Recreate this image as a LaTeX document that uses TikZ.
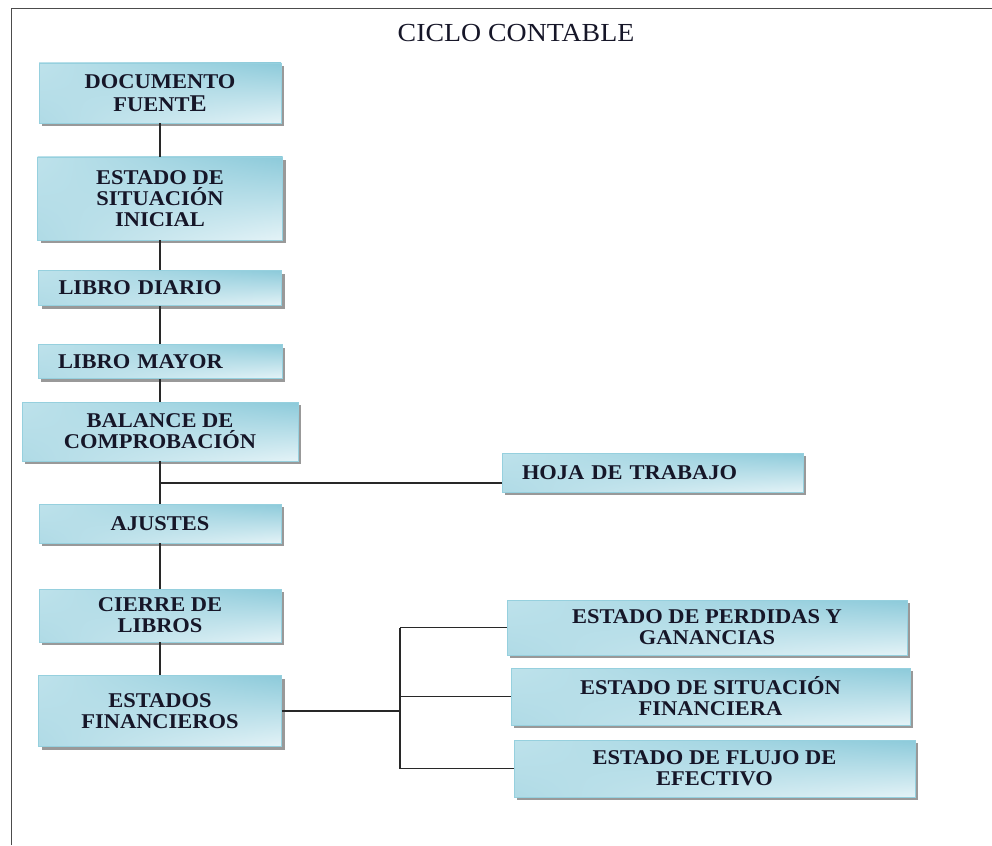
\documentclass[tikz,border=0pt]{standalone}
\usepackage{fontspec}
\setmainfont{Liberation Serif}[FakeStretch=1.07]
\usetikzlibrary{shadows, shadings, positioning, calc}
\definecolor{cLight}{RGB}{228,243,247}
\definecolor{cMid}{RGB}{190,226,235}
\definecolor{cDark}{RGB}{140,202,218}
\definecolor{cEdge}{RGB}{150,208,222}
\definecolor{cTxt}{RGB}{22,22,40}
\definecolor{cLine}{RGB}{40,40,40}
\tikzstyle{Paso}=[rectangle,
		draw=cEdge,
		line width=0.8pt,
		upper left=cMid, upper right=cDark,
		lower left=cDark!60!cLight, lower right=cLight,
		drop shadow={shadow xshift=3pt, shadow yshift=-3pt, fill=black!50, opacity=0.8},
		inner sep=0pt,
		align=center,
		text=cTxt,
		font=\fontsize{21}{21}\selectfont\bfseries]
\tikzstyle{PasoIzq}=[Paso,
		align=left,
		inner xsep=20pt]
\tikzstyle{Linea}=[line width=1.2pt, draw=cLine]

\begin{document}
\begin{tikzpicture}[x=1pt,y=-1pt]
  \useasboundingbox (0,0) rectangle (992,845);
  \draw [line width=1pt, black!70] (11,845) -- (11,9) -- (992,9);

  \node [anchor=base, text=cTxt, font=\fontsize{26}{27}\selectfont] (titulo) at (516,42) {CICLO CONTABLE};

  % main column
  \node [Paso, minimum width=242pt, minimum height=60pt] (doc) at (160,93) {DOCUMENTO\\[2pt]FUENT{\fontsize{24}{21}\selectfont E}};
  \node [Paso, minimum width=245pt, minimum height=83pt] (sit) at (160,198.5) {ESTADO DE\\SITUACIÓN\\INICIAL};
  \node [PasoIzq, text width=203pt, minimum height=35pt] (diario) at (160,288) {LIBRO DIARIO};
  \node [PasoIzq, text width=204pt, minimum height=34pt] (mayor) at (160,361.5) {LIBRO MAYOR};
  \node [Paso, minimum width=276pt, minimum height=59pt] (bal) at (160,431.5) {BALANCE DE\\COMPROBACIÓN};
  \node [Paso, minimum width=242pt, minimum height=39pt] (aju) at (160,523.5) {AJUSTES};
  \node [Paso, minimum width=242pt, minimum height=53pt] (cie) at (160,615.5) {CIERRE DE\\LIBROS};
  \node [Paso, minimum width=243pt, minimum height=71pt] (fin) at (160,711) {ESTADOS\\FINANCIEROS};

  % side boxes
  \node [PasoIzq, text width=261pt, minimum height=39pt] (hoja) at (652.5,472.5) {HOJA DE TRABAJO};
  \node [Paso, minimum width=400pt, minimum height=55pt] (epg) at (707,627.5) {ESTADO DE PERDIDAS Y\\GANANCIAS};
  \node [Paso, minimum width=399pt, minimum height=57pt] (esf) at (710.5,696.5) {ESTADO DE SITUACIÓN\\FINANCIERA};
  \node [Paso, minimum width=401pt, minimum height=57pt] (efe) at (714.5,768.5) {ESTADO DE FLUJO DE\\EFECTIVO};

  \draw [Linea] (doc) -- (sit);
  \draw [Linea] (sit) -- (diario);
  \draw [Linea] (diario) -- (mayor);
  \draw [Linea] (mayor) -- (bal);
  \draw [Linea] (bal) -- (aju);
  \draw [Linea] (aju) -- (cie);
  \draw [Linea] (cie) -- (fin);

  \coordinate (jt) at (160,483);
  \draw [Linea] (jt) -- (jt -| hoja.west);

  % estados financieros
  \coordinate (br) at (400,711);
  \draw [Linea] (fin) -- (br);
  \draw [Linea] (br |- epg.west) -- (br |- efe.west);
  \draw [Linea] (br |- epg.west) -- (epg.west);
  \draw [Linea] (br |- esf.west) -- (esf.west);
  \draw [Linea] (br |- efe.west) -- (efe.west);

\end{tikzpicture}
\end{document}
